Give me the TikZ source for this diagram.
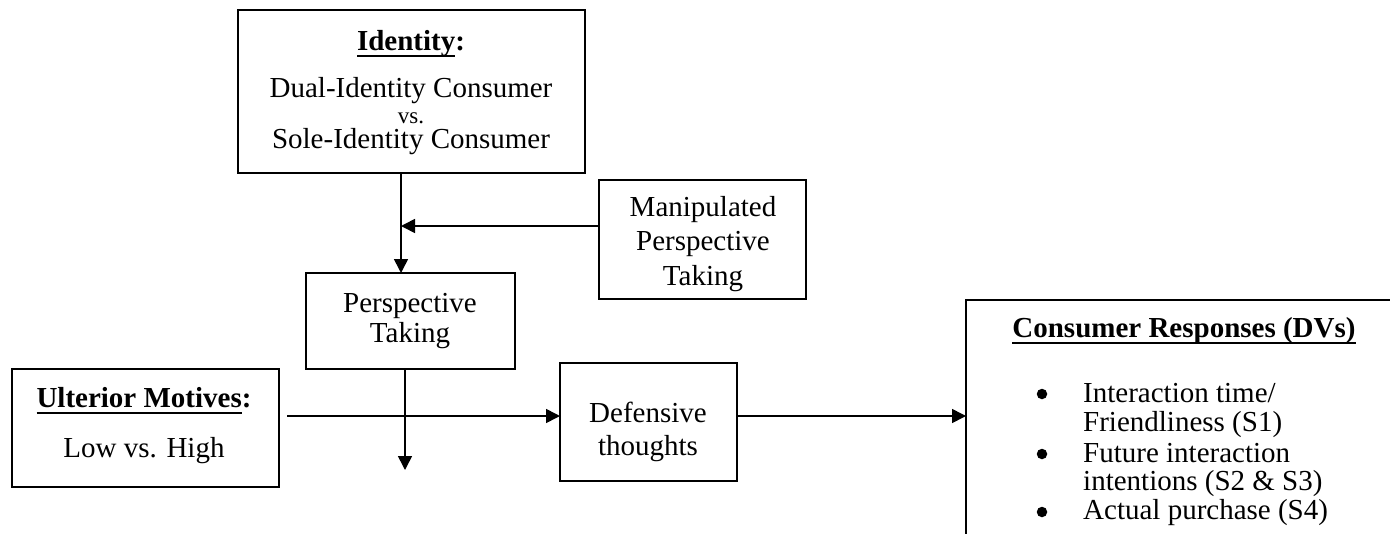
\documentclass[tikz,border=0pt]{standalone}
\usepackage{fontspec}
\setmainfont{Liberation Serif}
\usetikzlibrary{arrows.meta}
\newcommand\myul[1]{\setbox0\hbox{#1}\rlap{\rule[-6.5pt]{\wd0}{1.8pt}}\box0}
\tikzset{
  box/.style={draw, line width=2pt, inner sep=0pt, outer sep=0pt, anchor=north west},
  txt/.style={font=\fontsize{29}{30}\selectfont, inner sep=0pt, anchor=base},
  txtl/.style={txt, anchor=base west},
  bul/.style={circle, fill, inner sep=0pt, minimum size=10.5pt},
  arr/.style={line width=1.6pt, -{Triangle[length=14pt,width=14pt]}}
}
\begin{document}
\begin{tikzpicture}[x=1pt,y=-1pt]
\useasboundingbox (0,0) rectangle (1390,533);
\clip (0,0) rectangle (1390,533);
% boxes
\node[box, minimum width=347pt, minimum height=163pt] (id) at (238,10) {};
\node[box, minimum width=207pt, minimum height=119pt] (mp) at (599,180) {};
\node[box, minimum width=209pt, minimum height=96pt] (pt) at (306,273) {};
\node[box, minimum width=267pt, minimum height=118pt] (um) at (12,369) {};
\node[box, minimum width=177pt, minimum height=118pt] (dt) at (560,363) {};
\node[box, minimum width=460pt, minimum height=280pt] (cr) at (966,300) {};
% texts
\node[txt] (idt1) at (411,50) {\myul{\textbf{Identity}}\textbf{:}};
\node[txt] (idt2) at (411,97) {Dual-Identity Consumer};
\node[txt, font=\fontsize{23}{24}\selectfont] (idt3) at (411,123) {vs.};
\node[txt] (idt4) at (411,148) {Sole-Identity Consumer};
\node[txt] (mpt1) at (703,216) {Manipulated};
\node[txt] (mpt2) at (703,250) {Perspective};
\node[txt] (mpt3) at (703,285) {Taking};
\node[txt] (ptt1) at (410,312) {Perspective};
\node[txt] (ptt2) at (410,342) {Taking};
\node[txt] (umt1) at (144,407) {\myul{\textbf{Ulterior Motives}}\textbf{:}};
\node[txt] (umt2) at (144,457) {Low vs. High};
\node[txt] (dtt1) at (648,422) {Defensive};
\node[txt] (dtt2) at (648,455) {thoughts};
\node[txt] (crh) at (1184,337) {\myul{\textbf{Consumer Responses (DVs)}}};
\node[bul] (b1) at (1042,394) {};
\node[bul] (b2) at (1042,454) {};
\node[bul] (b3) at (1042,512) {};
\node[txtl] (cr1) at (1083,402) {Interaction time/};
\node[txtl] (cr2) at (1083,431) {Friendliness (S1)};
\node[txtl] (cr3) at (1083,462) {Future interaction};
\node[txtl] (cr4) at (1083,490) {intentions (S2 \& S3)};
\node[txtl] (cr5) at (1083,519) {Actual purchase (S4)};
% connectors
\coordinate (x1) at (401,0);
\coordinate (x2) at (405,0);
\coordinate (j) at (0,226);
\coordinate (s1) at (287,416);
\coordinate (e1) at (405,470);
\draw[arr] (id.south -| x1) -- (pt.north -| x1);
\draw[arr] (mp.west |- j) -- (x1 |- j);
\draw[arr] (pt.south -| x2) -- (e1);
\draw[arr] (s1) -- (dt.west |- s1);
\draw[arr] (dt.east |- s1) -- (cr.west |- s1);
\end{tikzpicture}
\end{document}
